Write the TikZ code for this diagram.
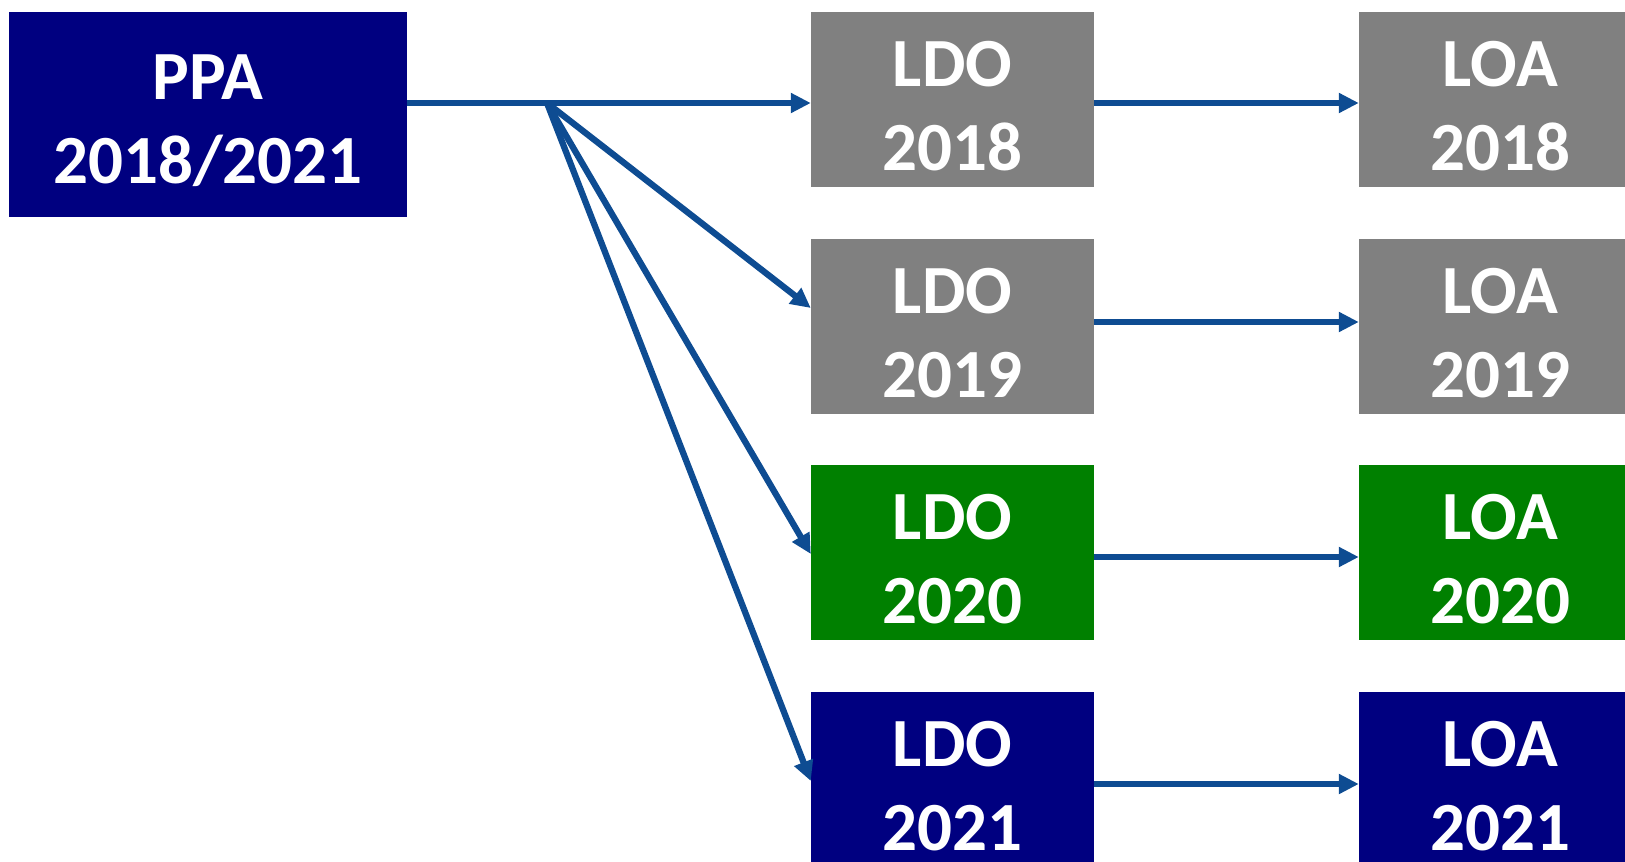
\documentclass[tikz,border=0pt]{standalone}
\usepackage{fontspec}
\setmainfont{Carlito}
\usetikzlibrary{arrows.meta}
\definecolor{navybox}{RGB}{0,0,128}
\definecolor{graybox}{RGB}{128,128,128}
\definecolor{greenbox}{RGB}{0,128,0}
\definecolor{arrowblue}{RGB}{14,76,146}
\tikzset{
  box/.style={rectangle, inner sep=0pt, minimum width=283pt, minimum height=175pt, draw=none},
  ppabox/.style={rectangle, inner sep=0pt, minimum width=398pt, minimum height=205pt, fill=navybox, draw=none},
  lbl/.style={inner sep=0pt, align=center, text=white, font=\fontsize{69}{84}\selectfont\bfseries},
  arr/.style={draw=arrowblue, line width=6.3pt, -{Triangle[length=20pt,width=19pt]}}
}
\begin{document}
\begin{tikzpicture}[x=1pt,y=-1pt]
\useasboundingbox (0,0) rectangle (1625,862);
\clip (0,0) rectangle (1625,862);
% PPA
\node[ppabox] (ppa) at (208,114.5) {};
\node[lbl] (ppat) at ([yshift=-6pt]ppa.center) {PPA\\2018/2021};
% LDO column
\node[box, fill=graybox] (ldo1) at (952.5,99.5) {};
\node[box, fill=graybox] (ldo2) at (952.5,326.5) {};
\node[box, fill=greenbox] (ldo3) at (952.5,552.5) {};
\node[box, fill=navybox] (ldo4) at (952.5,779.5) {};
\node[lbl] (ldo1t) at ([yshift=-6.5pt]ldo1.center) {LDO\\2018};
\node[lbl] (ldo2t) at ([yshift=-6.5pt]ldo2.center) {LDO\\2019};
\node[lbl] (ldo3t) at ([yshift=-6.5pt]ldo3.center) {LDO\\2020};
\node[lbl] (ldo4t) at ([yshift=-6.5pt]ldo4.center) {LDO\\2021};
% LOA column
\node[box, fill=graybox] (loa1) at (1500.5,99.5) {};
\node[box, fill=graybox] (loa2) at (1500.5,326.5) {};
\node[box, fill=greenbox] (loa3) at (1500.5,552.5) {};
\node[box, fill=navybox] (loa4) at (1500.5,779.5) {};
\node[lbl] (loa1t) at ([yshift=-6.5pt]loa1.center) {LOA\\2018};
\node[lbl] (loa2t) at ([yshift=-6.5pt]loa2.center) {LOA\\2019};
\node[lbl] (loa3t) at ([yshift=-6.5pt]loa3.center) {LOA\\2020};
\node[lbl] (loa4t) at ([yshift=-6.5pt]loa4.center) {LOA\\2021};
% connectors
\coordinate (split) at (547,103);
\draw[arr] ([yshift=11.5pt]ppa.east) -- ([yshift=-3.5pt]ldo1.west);
\draw[arr] (split) -- ([yshift=18.5pt]ldo2.west);
\draw[arr] (split) -- ([yshift=-1.5pt]ldo3.west);
\draw[arr] (split) -- ([yshift=-1.5pt]ldo4.west);
\draw[arr] ([yshift=-3.5pt]ldo1.east) -- ([yshift=-3.5pt]loa1.west);
\draw[arr] ([yshift=4.5pt]ldo2.east) -- ([yshift=4.5pt]loa2.west);
\draw[arr] ([yshift=-4.5pt]ldo3.east) -- ([yshift=-4.5pt]loa3.west);
\draw[arr] ([yshift=-4.5pt]ldo4.east) -- ([yshift=-4.5pt]loa4.west);
\end{tikzpicture}
\end{document}
